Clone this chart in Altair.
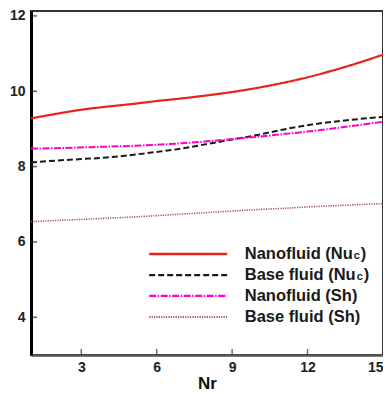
import altair as alt
import pandas as pd

nr = [1, 2, 3, 4, 5, 6, 7, 8, 9, 10, 11, 12, 13, 14, 15]
nano_nu = [9.28, 9.40, 9.51, 9.59, 9.66, 9.74, 9.81, 9.89, 9.98, 10.09, 10.22, 10.37, 10.55, 10.75, 10.97]
base_nu = [8.11, 8.16, 8.20, 8.24, 8.31, 8.39, 8.48, 8.60, 8.72, 8.84, 8.98, 9.10, 9.19, 9.26, 9.32]
nano_sh = [8.48, 8.49, 8.51, 8.53, 8.55, 8.58, 8.62, 8.67, 8.73, 8.79, 8.86, 8.93, 9.01, 9.10, 9.19]
base_sh = [6.54, 6.57, 6.60, 6.63, 6.66, 6.70, 6.74, 6.78, 6.82, 6.86, 6.89, 6.93, 6.96, 6.99, 7.02]

series_names = ["Nanofluid (Nu_c)", "Base fluid (Nu_c)", "Nanofluid (Sh)", "Base fluid (Sh)"]
series_values = [nano_nu, base_nu, nano_sh, base_sh]
colors = ["#e8231c", "#1a1a1a", "#ff00cc", "#a05a5a"]
dashes = [[1, 0], [6, 3], [7, 1.5, 1.5, 1.5], [1.2, 1.2]]
widths = [2.2, 2.0, 2.0, 1.6]

x_ticks = [3, 6, 9, 12, 15]
y_ticks = [4, 6, 8, 10, 12]

legend_main = ["Nanofluid (Nu", "Base fluid (Nu", "Nanofluid (Sh)", "Base fluid (Sh)"]
legend_sub = ["c", "c", "", ""]
legend_close = [")", ")", "", ""]
legend_y = [5.68, 5.12, 4.57, 4.01]
legend_x0 = 5.7
legend_x1 = 8.8
legend_tx = 9.5
sub_dx = [109, 112, 0, 0]
close_dx = [116, 119, 0, 0]

x_scale = alt.Scale(domain=[1, 15], nice=False, zero=False)
y_scale = alt.Scale(domain=[3, 12.13], nice=False, zero=False)

x_axis = alt.Axis(values=x_ticks, title="Nr", ticks=False, offset=0,
                  labelFont="Liberation Sans", labelFontWeight="bold", labelFontSize=14,
                  labelColor="#222", labelPadding=5, titleFont="Liberation Sans",
                  titleFontWeight="bold", titleFontSize=17, titleColor="#111", titlePadding=1,
                  domainColor="#555", domainWidth=2.5, grid=False, labelFlush=True)
y_axis = alt.Axis(values=y_ticks, title=None, ticks=False,
                  labelFont="Liberation Sans", labelFontWeight="bold", labelFontSize=14,
                  labelColor="#222", labelPadding=6, domainColor="#000", domainWidth=3,
                  grid=False)

X = lambda: alt.X("Nr:Q", scale=x_scale, axis=x_axis)
Y = lambda: alt.Y("val:Q", scale=y_scale, axis=y_axis)

layers = []
# inward ticks
xt = pd.DataFrame({"Nr": x_ticks, "val": [3] * len(x_ticks)})
layers.append(alt.Chart(xt).mark_tick(orient="vertical", size=6, thickness=1.5, color="#333",
                                      yOffset=-3).encode(x=X(), y=Y()))
yt = pd.DataFrame({"Nr": [1] * len(y_ticks), "val": y_ticks})
layers.append(alt.Chart(yt).mark_tick(orient="horizontal", size=6, thickness=1.5, color="#222",
                                      xOffset=3).encode(x=X(), y=Y()))

for i, name in enumerate(series_names):
    df = pd.DataFrame({"Nr": nr, "val": series_values[i]})
    layers.append(
        alt.Chart(df).mark_line(color=colors[i], strokeDash=dashes[i], strokeWidth=widths[i],
                                interpolate="monotone").encode(x=X(), y=Y())
    )
    ldf = pd.DataFrame({"Nr": [legend_x0], "x2": [legend_x1], "val": [legend_y[i]]})
    layers.append(
        alt.Chart(ldf).mark_rule(color=colors[i], strokeDash=dashes[i], strokeWidth=widths[i] + 0.3)
        .encode(x=X(), x2="x2:Q", y=Y())
    )
    tdf = pd.DataFrame({"Nr": [legend_tx], "val": [legend_y[i]], "t": [legend_main[i]],
                        "s": [legend_sub[i]], "c": [legend_close[i]]})
    tb = alt.Chart(tdf).encode(x=X(), y=Y())
    layers.append(tb.mark_text(align="left", baseline="middle", font="Liberation Sans",
                               fontWeight="bold", fontSize=16.5, color="#1a1a1a").encode(text="t:N"))
    if legend_sub[i]:
        layers.append(tb.mark_text(align="left", baseline="middle", font="Liberation Sans",
                                   fontWeight="bold", fontSize=11, color="#1a1a1a",
                                   dx=sub_dx[i], dy=2).encode(text="s:N"))
        layers.append(tb.mark_text(align="left", baseline="middle", font="Liberation Sans",
                                   fontWeight="bold", fontSize=16.5, color="#1a1a1a",
                                   dx=close_dx[i]).encode(text="c:N"))

chart = alt.layer(*layers).properties(
    width=352, height=344,
    autosize=alt.AutoSizeParams(type="none"),
    padding={"left": 23, "top": 3, "right": 0, "bottom": 38},
    background="white",
).configure_view(stroke="#333", strokeWidth=2)

chart.save("out.html", embed_options={"renderer": "svg", "actions": False})
